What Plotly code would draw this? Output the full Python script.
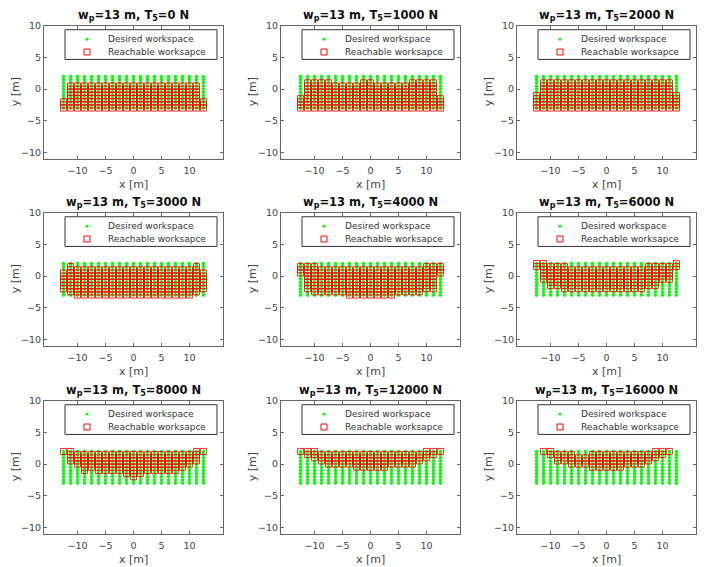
import plotly.graph_objects as go

# grid of desired workspace points
x_pos = [-12.5, -11.25, -10.0, -8.75, -7.5, -6.25, -5.0, -3.75, -2.5, -1.25, 0.0,
         1.25, 2.5, 3.75, 5.0, 6.25, 7.5, 8.75, 10.0, 11.25, 12.5]
y_pos = [-3.0, -2.5, -2.0, -1.5, -1.0, -0.5, 0.0, 0.5, 1.0, 1.5, 2.0]

tension = [0, 1000, 2000, 3000, 4000, 6000, 8000, 12000, 16000]

# reachable range per x column (top / bottom y), None = nothing reachable
top_0 = [-2.0, 0.5, 0.5, 0.5, 0.5, 0.5, 0.5, 0.5, 0.5, 0.5, 0.5, 0.5, 0.5, 0.5, 0.5, 0.5, 0.5, 0.5, 0.5, 0.5, -2.0]
bot_0 = [-3.0, -3.0, -3.0, -3.0, -3.0, -3.0, -3.0, -3.0, -3.0, -3.0, -3.0, -3.0, -3.0, -3.0, -3.0, -3.0, -3.0, -3.0, -3.0, -3.0, -3.0]
top_1000 = [-1.5, 1.0, 1.0, 1.0, 1.0, 0.5, 0.5, 0.5, 0.5, 1.0, 1.0, 0.5, 0.5, 0.5, 0.5, 0.5, 1.0, 1.0, 1.0, 1.0, -1.5]
bot_1000 = [-3.0, -3.0, -3.0, -3.0, -3.0, -3.0, -3.0, -3.0, -3.0, -3.0, -3.0, -3.0, -3.0, -3.0, -3.0, -3.0, -3.0, -3.0, -3.0, -3.0, -3.0]
top_2000 = [-1.0, 1.0, 1.0, 1.0, 1.0, 1.0, 1.0, 1.0, 1.0, 1.0, 1.0, 1.0, 1.0, 1.0, 1.0, 1.0, 1.0, 1.0, 1.0, 1.0, -1.0]
bot_2000 = [-3.0, -3.0, -3.0, -3.0, -3.0, -3.0, -3.0, -3.0, -3.0, -3.0, -3.0, -3.0, -3.0, -3.0, -3.0, -3.0, -3.0, -3.0, -3.0, -3.0, -3.0]
top_3000 = [0.5, 1.5, 1.0, 1.0, 1.0, 1.0, 1.0, 1.0, 1.0, 1.0, 1.0, 1.0, 1.0, 1.0, 1.0, 1.0, 1.0, 1.0, 1.0, 1.5, 0.5]
bot_3000 = [-2.0, -2.5, -3.0, -3.0, -3.0, -3.0, -3.0, -3.0, -3.0, -3.0, -3.0, -3.0, -3.0, -3.0, -3.0, -3.0, -3.0, -3.0, -3.0, -2.5, -2.0]
top_4000 = [1.5, 1.5, 1.5, 1.0, 1.0, 1.0, 1.0, 1.0, 1.0, 1.0, 1.0, 1.0, 1.0, 1.0, 1.0, 1.0, 1.0, 1.0, 1.5, 1.5, 1.5]
bot_4000 = [0.5, -2.0, -2.5, -2.5, -2.5, -2.5, -2.5, -3.0, -3.0, -3.0, -3.0, -3.0, -3.0, -3.0, -2.5, -2.5, -2.5, -2.5, -2.0, -2.0, 0.5]
top_6000 = [2.0, 2.0, 1.5, 1.5, 1.5, 1.0, 1.0, 1.0, 1.0, 1.0, 1.0, 1.0, 1.0, 1.0, 1.0, 1.0, 1.5, 1.5, 1.5, 1.5, 2.0]
bot_6000 = [1.5, -0.5, -1.5, -1.5, -2.0, -2.0, -2.0, -2.0, -2.0, -2.0, -2.0, -2.0, -2.0, -2.0, -2.0, -2.0, -1.5, -1.5, -0.5, -0.5, 1.5]
top_8000 = [2.0, 2.0, 1.5, 1.5, 1.5, 1.5, 1.5, 1.5, 1.5, 1.5, 1.5, 1.5, 1.5, 1.5, 1.5, 1.5, 1.5, 1.5, 1.5, 2.0, 2.0]
bot_8000 = [2.0, 0.5, 0.0, -1.0, -0.5, -1.0, -1.0, -1.0, -1.0, -1.5, -2.0, -1.5, -1.0, -1.0, -1.0, -1.0, -1.0, -0.5, 0.0, 0.5, 2.0]
top_12000 = [2.0, 2.0, 2.0, 1.5, 1.5, 1.5, 1.5, 1.5, 1.5, 1.5, 1.5, 1.5, 1.5, 1.5, 1.5, 1.5, 1.5, 1.5, 2.0, 2.0, 2.0]
bot_12000 = [2.0, 1.5, 1.0, 0.5, 0.0, 0.0, 0.0, 0.0, -0.5, -0.5, -0.5, -0.5, -0.5, 0.0, 0.0, 0.0, 0.0, 0.5, 1.0, 1.5, 2.0]
top_16000 = [None, 2.0, 2.0, 1.5, 1.5, 1.5, 1.0, 1.0, 1.5, 1.5, 1.5, 1.5, 1.5, 1.5, 1.5, 1.5, 1.5, 2.0, 2.0, 2.0, None]
bot_16000 = [None, 2.0, 1.5, 0.5, 0.5, 0.0, 0.0, 0.0, -0.5, -0.5, -0.5, -0.5, -0.5, 0.0, 0.0, 0.0, 0.5, 1.0, 1.5, 2.0, None]

tops = [top_0, top_1000, top_2000, top_3000, top_4000, top_6000, top_8000, top_12000, top_16000]
bots = [bot_0, bot_1000, bot_2000, bot_3000, bot_4000, bot_6000, bot_8000, bot_12000, bot_16000]
legend_labels = ["Desired workspace", "Reachable worksapce"]

W, H = 708, 567
FONT = "DejaVu Sans"
col_left = [44, 281, 517]
row_top = [20, 209, 399]
box_w, box_h = 179, 134.4

fig = go.Figure()
annotations = []
shapes = []


def px(x):
    return x / W


def py(y):
    return 1 - y / H


for k, t in enumerate(tension):
    r, c = divmod(k, 3)
    sfx = "" if k == 0 else str(k + 1)
    left, top = col_left[c], row_top[r]
    x0, x1 = px(left), px(left + box_w)
    y1, y0 = py(top), py(top + box_h)

    gx, gy, rx, ry = [], [], [], []
    for i, xv in enumerate(x_pos):
        for yv in y_pos:
            gx.append(xv)
            gy.append(yv)
            if tops[k][i] is not None and bots[k][i] <= yv <= tops[k][i]:
                rx.append(xv)
                ry.append(yv)

    fig.add_trace(go.Scatter(x=gx, y=gy, mode="markers", name=legend_labels[0], showlegend=False,
                             marker=dict(symbol="circle", size=3.6, color="#00ff00"),
                             xaxis="x" + sfx, yaxis="y" + sfx))
    fig.add_trace(go.Scatter(x=rx, y=ry, mode="markers", name=legend_labels[1], showlegend=False,
                             marker=dict(symbol="square-open", size=6, color="rgba(255,0,0,0.85)",
                                         line=dict(width=1)),
                             xaxis="x" + sfx, yaxis="y" + sfx))

    axis_style = dict(showgrid=False, zeroline=False, showline=True, linecolor="#666666",
                      linewidth=1, mirror="ticks", ticks="inside", ticklen=3,
                      tickcolor="#666666", tickfont=dict(family=FONT, size=9.5, color="#444444"))
    fig.update_layout(**{
        "xaxis" + sfx: dict(domain=[x0, x1], anchor="y" + sfx, range=[-16, 16],
                            tickvals=[-10, -5, 0, 5, 10], ticklabelstandoff=3, **axis_style),
        "yaxis" + sfx: dict(domain=[y0, y1], anchor="x" + sfx, range=[-11, 10],
                            tickvals=[-10, -5, 0, 5, 10], **axis_style),
    })

    # legend box drawn in MATLAB style (compact rows)
    lx0, lx1 = left + 21, left + box_w - 6
    ly0, ly1 = top + 4, top + 34
    shapes.append(dict(type="rect", xref="paper", yref="paper", x0=px(lx0), x1=px(lx1),
                       y0=py(ly1), y1=py(ly0), line=dict(color="#333333", width=1),
                       fillcolor="white", layer="above"))
    shapes.append(dict(type="circle", xref="paper", yref="paper", x0=px(lx0 + 20.5), x1=px(lx0 + 23.5),
                       y0=py(ly0 + 11), y1=py(ly0 + 8), line=dict(width=0),
                       fillcolor="#00ff00", layer="above"))
    shapes.append(dict(type="rect", xref="paper", yref="paper", x0=px(lx0 + 19), x1=px(lx0 + 25),
                       y0=py(ly0 + 25.5), y1=py(ly0 + 19.5), line=dict(color="#ff0000", width=1),
                       fillcolor="rgba(0,0,0,0)", layer="above"))
    for j, lab in enumerate(legend_labels):
        annotations.append(dict(text=lab, xref="paper", yref="paper", x=px(lx0 + 41),
                                y=py(ly0 + 9.5 + 13 * j), xanchor="left", yanchor="middle",
                                showarrow=False, font=dict(family=FONT, size=9, color="#333333")))

    annotations.append(dict(text="<b>w<sub>p</sub>=13 m, T<sub>5</sub>=%d N</b>" % t,
                            xref="paper", yref="paper", x=(x0 + x1) / 2, y=y1,
                            xanchor="center", yanchor="bottom", yshift=1, showarrow=False,
                            font=dict(family=FONT, size=11.5, color="#111111")))
    annotations.append(dict(text="x [m]", xref="paper", yref="paper", x=(x0 + x1) / 2, y=y0,
                            xanchor="center", yanchor="top", yshift=-17, showarrow=False,
                            font=dict(family=FONT, size=11, color="#444444")))
    annotations.append(dict(text="y [m]", xref="paper", yref="paper", x=x0, y=(y0 + y1) / 2,
                            xanchor="center", yanchor="middle", xshift=-29, textangle=-90,
                            showarrow=False, font=dict(family=FONT, size=11, color="#444444")))

fig.update_layout(width=W, height=H, margin=dict(l=0, r=0, t=0, b=0),
                  paper_bgcolor="white", plot_bgcolor="white",
                  annotations=annotations, shapes=shapes, showlegend=False)

# pin the graph to the page corner so the browser's default body margin does not shift it
pin = ("var gd=document.getElementById('{plot_id}');"
       "gd.style.position='absolute';gd.style.top='0px';gd.style.left='0px';"
       "document.body.style.margin='0px';document.documentElement.style.overflow='hidden';")
fig.write_html("out.html", config={"displayModeBar": False}, post_script=pin)
